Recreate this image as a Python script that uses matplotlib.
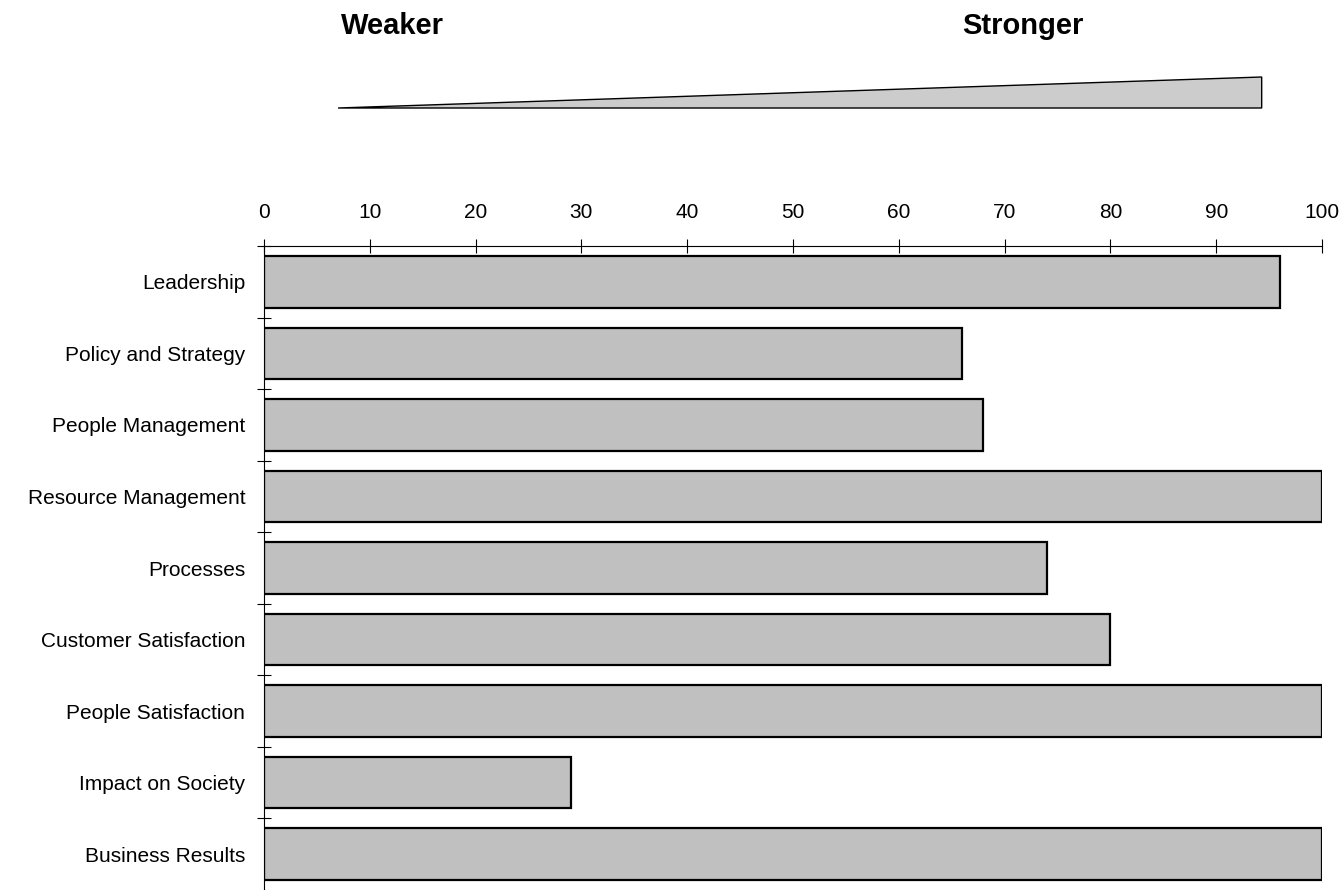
import numpy as np
import matplotlib.pyplot as plt
from matplotlib.patches import Polygon

plt.rcParams['font.family'] = ['Liberation Sans', 'DejaVu Sans']

categories = ['Leadership', 'Policy and Strategy', 'People Management',
              'Resource Management', 'Processes', 'Customer Satisfaction',
              'People Satisfaction', 'Impact on Society', 'Business Results']
scores = [96, 66, 68, 100, 74, 80, 100, 29, 100]
xticks = list(range(0, 101, 10))

W, H = 1341, 890
fig = plt.figure(figsize=(W / 100, H / 100), dpi=100)

# main bar chart, axis on top
ax = fig.add_axes([264 / W, 0, (1322 - 264) / W, (890 - 246) / H])
y = np.arange(len(categories))
ax.barh(y, scores, height=0.72, color='#c0c0c0', edgecolor='black', linewidth=1.6)
ax.set_xlim(0, 100)
ax.set_ylim(len(categories) - 0.5, -0.5)

ax.xaxis.tick_top()
ax.set_xticks(xticks)
ax.set_xticklabels([str(t) for t in xticks], fontsize=15)
ax.tick_params(axis='x', direction='inout', length=10, width=0.8, pad=12.5)

ax.set_yticks(y)
ax.set_yticklabels(categories, fontsize=15)
ax.set_yticks(np.arange(len(categories)) - 0.5, minor=True)
ax.tick_params(axis='y', which='major', length=0, pad=13.5)
ax.tick_params(axis='y', which='minor', direction='inout', length=10, width=0.8)

for side in ['right', 'bottom']:
    ax.spines[side].set_visible(False)
for side in ['top', 'left']:
    ax.spines[side].set_linewidth(0.8)

# weaker -> stronger wedge
tax = fig.add_axes([264 / W, 1 - 108 / H, (1322 - 264) / W, 31 / H])
tax.set_xlim(0, 100)
tax.set_ylim(0, 1)
tax.axis('off')
tax.add_patch(Polygon([(7, 0), (94.3, 1), (94.3, 0)], closed=True,
                      facecolor='#cccccc', edgecolor='black', linewidth=1.0,
                      clip_on=False))
tax.text(12.1, 2.65, 'Weaker', fontsize=21, fontweight='bold',
         ha='center', va='center', clip_on=False)
tax.text(71.7, 2.65, 'Stronger', fontsize=21, fontweight='bold',
         ha='center', va='center', clip_on=False)

fig.savefig('out.png', dpi=100)
